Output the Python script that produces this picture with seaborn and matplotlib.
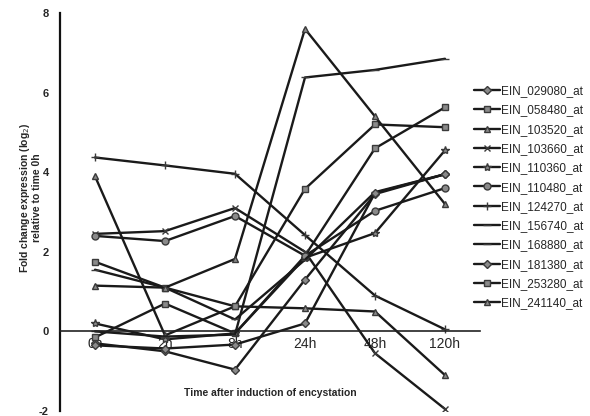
import numpy as np
import pandas as pd
import matplotlib
matplotlib.use("Agg")
import matplotlib.pyplot as plt
from matplotlib.ticker import MultipleLocator, FixedLocator
import seaborn as sns

times = ["0h", "2h", "8h", "24h", "48h", "120h"]
genes = ["EIN_029080_at", "EIN_058480_at", "EIN_103520_at", "EIN_103660_at",
         "EIN_110360_at", "EIN_110480_at", "EIN_124270_at", "EIN_156740_at",
         "EIN_168880_at", "EIN_181380_at", "EIN_253280_at", "EIN_241140_at"]
ein_029080 = [-0.30, -0.50, -0.96, 1.30, 3.45, 3.95]
ein_058480 = [-0.15, 0.70, -0.05, 1.90, 4.60, 5.63]
ein_103520 = [3.90, -0.10, 0.63, 0.58, 0.50, -1.10]
ein_103660 = [2.45, 2.52, 3.10, 2.00, -0.55, -1.95]
ein_110360 = [0.20, -0.20, -0.05, 1.85, 2.47, 4.55]
ein_110480 = [2.40, 2.27, 2.90, 1.90, 3.03, 3.60]
ein_124270 = [4.37, 4.17, 3.96, 2.42, 0.90, 0.05]
ein_156740 = [0.00, -0.13, -0.08, 6.38, 6.57, 6.85]
ein_168880 = [1.55, 1.10, 0.30, 1.80, 3.50, 3.95]
ein_181380 = [-0.35, -0.43, -0.33, 0.20, 3.48, 3.95]
ein_253280 = [1.75, 1.10, 0.63, 3.58, 5.20, 5.13]
ein_241140 = [1.15, 1.10, 1.82, 7.60, 5.40, 3.20]
series = [ein_029080, ein_058480, ein_103520, ein_103660, ein_110360, ein_110480,
          ein_124270, ein_156740, ein_168880, ein_181380, ein_253280, ein_241140]
markers = ["D", "s", "^", "x", "*", "o", "+", "_", "_", "D", "s", "^"]
msizes = [4, 5, 5, 5, 6, 5, 6, 6, 6, 4, 5, 5]

rows = []
for g, vals in zip(genes, series):
    for i, v in enumerate(vals):
        rows.append({"gene": g, "pos": i, "value": v})
df = pd.DataFrame(rows)

sns.set_style("white")
plt.rcParams["font.family"] = ["Liberation Sans", "DejaVu Sans"]

fig = plt.figure(figsize=(5.9, 4.16), dpi=100)
ax = fig.add_axes([60 / 590, 1 - 411 / 416, 420 / 590, 398 / 416])

line_col = "#1a1a1a"
for g, m, ms in zip(genes, markers, msizes):
    sub = df[df["gene"] == g]
    sns.lineplot(data=sub, x="pos", y="value", ax=ax, color=line_col, lw=1.7,
                 marker=m, markersize=ms, markerfacecolor="#8a8a8a",
                 markeredgecolor="#3a3a3a", markeredgewidth=1.0, label=g,
                 legend=False)

ax.set_xlim(-0.5, 5.5)
ax.set_ylim(-2, 8)
ax.set_yticks([-2, 0, 2, 4, 6, 8])
ax.set_yticklabels(["-2", "0", "2", "4", "6", "8"], fontsize=8, fontweight="bold")
ax.set_xticks(range(6))
ax.set_xticklabels(times, fontsize=8.5, fontweight="bold")
ax.xaxis.set_minor_locator(FixedLocator([0.5, 1.5, 2.5, 3.5, 4.5]))
ax.tick_params(axis="x", which="major", length=0, pad=4)
ax.tick_params(axis="x", which="minor", length=3, direction="in", width=1, color="#222222")
ax.tick_params(axis="y", which="major", length=4, direction="out", width=1.2, color="#222222", pad=4)

for s in ["top", "right"]:
    ax.spines[s].set_visible(False)
ax.spines["bottom"].set_position(("data", 0))
ax.spines["bottom"].set_linewidth(1.2)
ax.spines["bottom"].set_color("#222222")
ax.spines["bottom"].set_linestyle((0, (4, 1)))
ax.spines["left"].set_linewidth(1.6)
ax.spines["left"].set_color("#111111")

ax.set_xlabel("")
ax.set_ylabel("Fold change expression (log$_2$)\nrelative to time 0h", fontsize=7.5,
              fontweight="bold", linespacing=1.1)
ax.yaxis.set_label_coords(-0.042, 0.535)
ax.text(2.5, -1.55, "Time after induction of encystation", transform=ax.transData,
        ha="center", va="center", fontsize=7.5, fontweight="bold")

handles, labels = ax.get_legend_handles_labels()
fig.legend(handles, labels, loc="upper left", bbox_to_anchor=(474 / 590, 1 - 85 / 416),
           frameon=False, fontsize=8.5, handlelength=2.2, handletextpad=0.1,
           labelspacing=0.62, borderaxespad=0, borderpad=0)

fig.savefig("out.png", dpi=100, facecolor="white")
